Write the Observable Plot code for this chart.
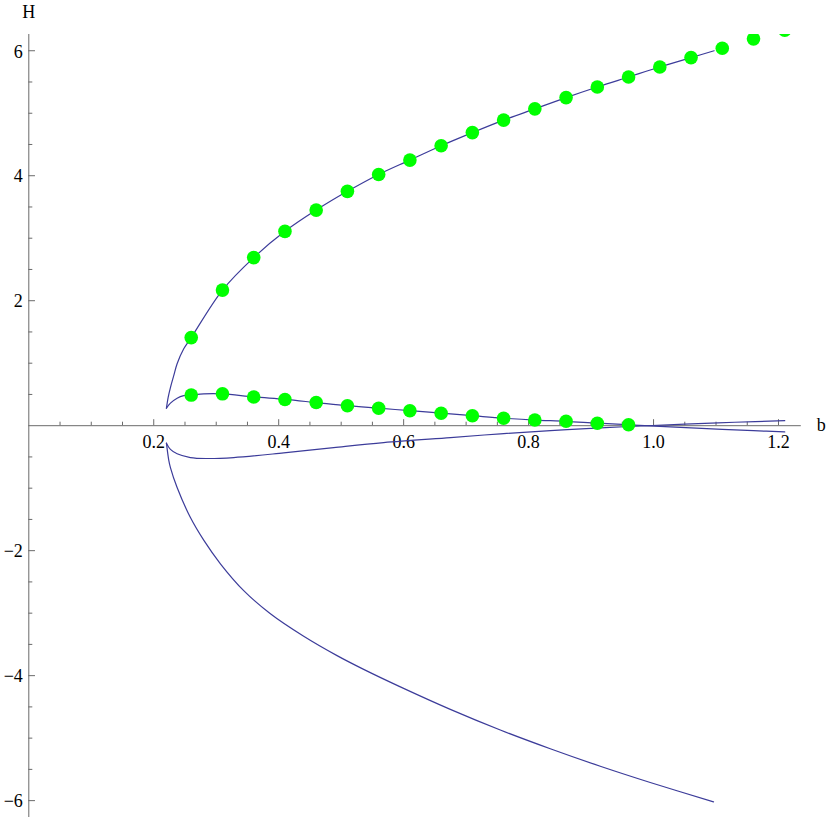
<!DOCTYPE html>
<html>
<head>
<meta charset="utf-8">
<script src="https://cdn.jsdelivr.net/npm/d3@7"></script>
<script src="https://cdn.jsdelivr.net/npm/@observablehq/plot@0.6"></script>
<style>
  html, body { margin: 0; padding: 0; background: #fff; }
  #chart svg { display: block; }
  #chart svg text { font-family: "Liberation Serif", "Times New Roman", serif; }
</style>
</head>
<body>
<div id="chart"></div>
<script>
// Curve A: upper branch (H > 0, rising)
const curveA_b = [0.2203, 0.2230, 0.2267, 0.2320, 0.2374, 0.248, 0.26, 0.31, 0.36, 0.41, 0.46, 0.51, 0.56, 0.61, 0.66, 0.71, 0.76, 0.81, 0.86, 0.91, 0.96, 1.01, 1.06, 1.097];
const curveA_H = [0.28, 0.45, 0.61, 0.80, 0.99, 1.23, 1.41, 2.17, 2.69, 3.11, 3.45, 3.75, 4.02, 4.25, 4.48, 4.69, 4.89, 5.07, 5.25, 5.42, 5.58, 5.74, 5.89, 6.00];

// Curve B: small positive branch, decaying through zero
const curveB_b = [0.2203, 0.2267, 0.2374, 0.248, 0.26, 0.28, 0.31, 0.36, 0.41, 0.46, 0.51, 0.56, 0.61, 0.66, 0.71, 0.76, 0.81, 0.86, 0.91, 0.96, 1.01, 1.06, 1.11, 1.16, 1.21];
const curveB_H = [0.28, 0.36, 0.44, 0.48, 0.49, 0.51, 0.51, 0.46, 0.42, 0.37, 0.32, 0.28, 0.24, 0.20, 0.16, 0.12, 0.09, 0.07, 0.04, 0.015, -0.01, -0.035, -0.06, -0.08, -0.10];

// Curve C: small negative branch, rising through zero
const curveC_b = [0.2203, 0.2267, 0.2374, 0.2587, 0.285, 0.328, 0.408, 0.488, 0.568, 0.675, 0.755, 0.835, 0.915, 0.98, 1.05, 1.13, 1.21];
const curveC_H = [-0.28, -0.38, -0.45, -0.51, -0.525, -0.51, -0.435, -0.35, -0.27, -0.19, -0.13, -0.08, -0.035, -0.005, 0.025, 0.055, 0.08];

// Curve D: lower branch (H < 0, falling)
const curveD_b = [0.2203, 0.2240, 0.2267, 0.2374, 0.2587, 0.2805, 0.3067, 0.344, 0.3867, 0.44, 0.4934, 0.536, 0.5947, 0.6747, 0.7547, 0.8347, 0.9147, 0.9947, 1.096];
const curveD_H = [-0.28, -0.55, -0.67, -0.99, -1.47, -1.84, -2.21, -2.64, -3.01, -3.37, -3.68, -3.90, -4.18, -4.54, -4.87, -5.17, -5.45, -5.71, -6.02];

// Green points (upper set)
const dotsUpper_b = [0.26, 0.31, 0.36, 0.41, 0.46, 0.51, 0.56, 0.61, 0.66, 0.71, 0.76, 0.81, 0.86, 0.91, 0.96, 1.01, 1.06, 1.11, 1.16, 1.21];
const dotsUpper_H = [1.41, 2.17, 2.69, 3.11, 3.45, 3.75, 4.02, 4.25, 4.48, 4.69, 4.89, 5.07, 5.25, 5.42, 5.58, 5.74, 5.89, 6.04, 6.19, 6.33];

// Green points (lower set)
const dotsLower_b = [0.26, 0.31, 0.36, 0.41, 0.46, 0.51, 0.56, 0.61, 0.66, 0.71, 0.76, 0.81, 0.86, 0.91, 0.96];
const dotsLower_H = [0.49, 0.51, 0.46, 0.42, 0.37, 0.32, 0.28, 0.24, 0.20, 0.16, 0.12, 0.09, 0.07, 0.04, 0.015];

// Ticks
const xMajorTicks = [0.2, 0.4, 0.6, 0.8, 1.0, 1.2];
const xTickLabels = ["0.2", "0.4", "0.6", "0.8", "1.0", "1.2"];
const xMinorTicks = [0.05, 0.1, 0.15, 0.25, 0.3, 0.35, 0.45, 0.5, 0.55, 0.65, 0.7, 0.75, 0.85, 0.9, 0.95, 1.05, 1.1, 1.15];
const yMajorTicks = [-6, -4, -2, 2, 4, 6];
const yTickLabels = ["\u22126", "\u22124", "\u22122", "2", "4", "6"];
const yMinorTicks = [-5.5, -5, -4.5, -3.5, -3, -2.5, -1.5, -1, -0.5, 0.5, 1, 1.5, 2.5, 3, 3.5, 4.5, 5, 5.5];

const curves = [
  ...curveA_b.map((b, i) => ({b, H: curveA_H[i], s: "A"})),
  ...curveB_b.map((b, i) => ({b, H: curveB_H[i], s: "B"})),
  ...curveC_b.map((b, i) => ({b, H: curveC_H[i], s: "C"})),
  ...curveD_b.map((b, i) => ({b, H: curveD_H[i], s: "D"}))
];
const dots = [
  ...dotsUpper_b.map((b, i) => ({b, H: dotsUpper_H[i]})),
  ...dotsLower_b.map((b, i) => ({b, H: dotsLower_H[i]}))
];

const font = "Liberation Serif";
const axisColor = "#6a6a6a";
const lineColor = "#3c3c9a";

const chart = Plot.plot({
  width: 830,
  height: 817,
  marginLeft: 28.3,
  marginRight: 29.2,
  marginTop: 34,
  marginBottom: 0,
  style: {background: "#fff", overflow: "visible"},
  x: {domain: [0, 1.2365], axis: null},
  y: {domain: [-6.27, 6.26], axis: null},
  marks: [
    // axes
    Plot.ruleY([0], {x1: 0, x2: 1.2365, stroke: axisColor, strokeWidth: 1}),
    Plot.ruleX([0], {y1: -6.27, y2: 6.26, stroke: axisColor, strokeWidth: 1}),
    // x ticks (pointing up)
    Plot.ruleX(xMajorTicks, {x: d => d, y1: 0, y2: 0.096, stroke: axisColor, strokeWidth: 1}),
    Plot.ruleX(xMinorTicks, {x: d => d, y1: 0, y2: 0.056, stroke: axisColor, strokeWidth: 1}),
    // y ticks (pointing right)
    Plot.ruleY(yMajorTicks, {y: d => d, x1: 0, x2: 0.0107, stroke: axisColor, strokeWidth: 1}),
    Plot.ruleY(yMinorTicks, {y: d => d, x1: 0, x2: 0.0064, stroke: axisColor, strokeWidth: 1}),
    // tick labels
    Plot.text(xMajorTicks, {x: d => d, y: 0, text: (d, i) => xTickLabels[i], dy: 17, fontSize: 18, fontFamily: font, fill: "#000", textAnchor: "middle"}),
    Plot.text(yMajorTicks, {x: 0, y: d => d, text: (d, i) => yTickLabels[i], dx: -6, dy: 1, fontSize: 18, fontFamily: font, fill: "#000", textAnchor: "end"}),
    // axis labels
    Plot.text(["H"], {x: 0, y: 6.26, text: d => d, dy: -22, fontSize: 18, fontFamily: font, fill: "#000"}),
    Plot.text(["b"], {x: 1.2365, y: 0, text: d => d, dx: 20, fontSize: 18, fontFamily: font, fill: "#000"}),
    // curves
    Plot.line(curves, {x: "b", y: "H", z: "s", stroke: lineColor, strokeWidth: 1.2, curve: "catmull-rom"}),
    // green points
    Plot.dot(dots, {x: "b", y: "H", r: 6.8, fill: "#00ff00", stroke: "none", clip: true})
  ]
});
document.getElementById("chart").append(chart);
</script>
</body>
</html>
